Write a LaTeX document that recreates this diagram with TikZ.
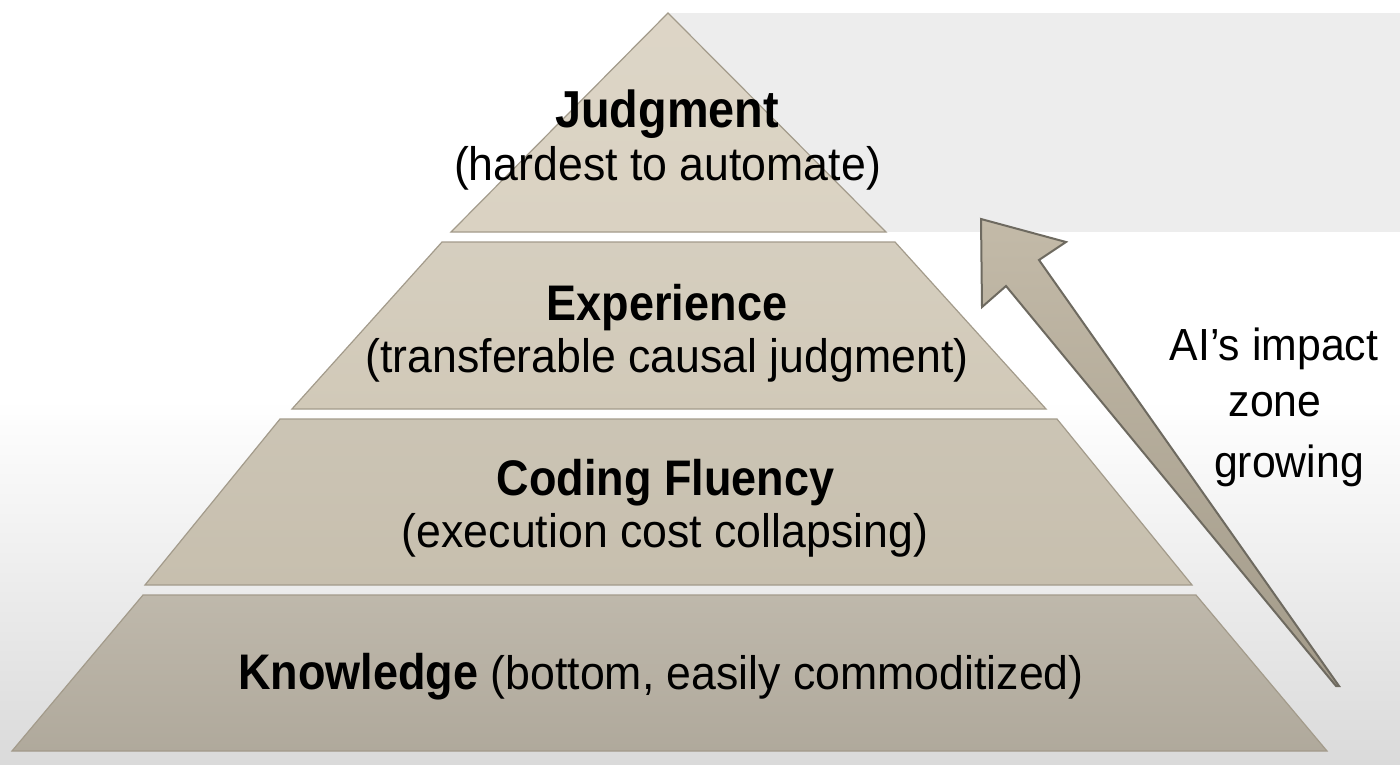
\documentclass[tikz,border=0pt]{standalone}
\usepackage{fontspec}
\setmainfont{Liberation Sans}
\newfontfamily\regf{Liberation Sans}[FakeStretch=0.95]
\newfontfamily\boldf{Liberation Sans}[FakeStretch=0.9]
\usetikzlibrary{shadings}
\definecolor{tierA}{HTML}{DAD2C2}
\definecolor{tierB}{HTML}{D1C9B8}
\definecolor{tierC}{HTML}{C7BFAE}
\definecolor{tierD}{HTML}{B9B2A4}
\definecolor{tierline}{HTML}{A39B8B}
\definecolor{arrowline}{HTML}{6E6A60}
\definecolor{arrowfillA}{HTML}{C3BAA8}
\definecolor{arrowfillB}{HTML}{A39B8A}
\definecolor{band}{HTML}{EDEDED}
\definecolor{bgbottom}{HTML}{DADADA}
\tikzset{
  tier/.style={draw=tierline, line width=1.2pt, line join=miter},
  boldlbl/.style={font=\boldf\bfseries\fontsize{50}{56}\selectfont, text=black, inner sep=0pt, anchor=base},
  reglbl/.style={font=\regf\fontsize{47}{52}\selectfont, text=black, inner sep=0pt, anchor=base},
  sidelbl/.style={font=\regf\fontsize{45}{50}\selectfont, text=black, inner sep=0pt, anchor=base},
  growarrow/.style={draw=arrowline, line width=2pt, line join=miter, top color=arrowfillA, bottom color=arrowfillB}
}
\begin{document}
\begin{tikzpicture}[x=1pt,y=-1pt]
\useasboundingbox (0,0) rectangle (1400,764);
% background
\fill[white] (0,0) rectangle (1400,764);
\shade[top color=white, bottom color=bgbottom] (0,400) rectangle (1400,764);
\fill[band] (668,13) rectangle (1400,232);
% tiers
\path[tier, top color=tierA!92!white, bottom color=tierA] (668,13) -- (886,232) -- (451,232) -- cycle;
\path[tier, top color=tierB!90!white, bottom color=tierB] (442,242) -- (895,242) -- (1046,409) -- (292,409) -- cycle;
\path[tier, top color=tierC!92!white, bottom color=tierC] (280,419) -- (1057,419) -- (1192,585) -- (145,585) -- cycle;
\path[tier, top color=tierD!92!white, bottom color=tierD!95!black] (143,595) -- (1196,595) -- (1327,751) -- (12,751) -- cycle;
% labels
\node[boldlbl, font=\boldf\bfseries\fontsize{52}{58}\selectfont] (judg) at (667,127) {Judgment};
\node[reglbl] (judgsub) at (667.5,180) {(hardest to automate)};
\node[boldlbl] (exp) at (667,320) {Experience};
\node[reglbl] (expsub) at (667,372) {(transferable causal judgment)};
\node[boldlbl] (cod) at (665.5,495) {Coding Fluency};
\node[reglbl] (codsub) at (665,547) {(execution cost collapsing)};
\node[reglbl] (know) at (661,689) {{\boldf\bfseries\fontsize{50}{56}\selectfont Knowledge} (bottom, easily commoditized)};
% arrow
\path[growarrow] (981,219) -- (1066,242) -- (1039,260) -- (1339,686) -- (1336,686) -- (1006,286) -- (982,307) -- cycle;
% side text
\node[sidelbl] (ai1) at (1274,360) {AI’s impact};
\node[sidelbl] (ai2) at (1275,416) {zone};
\node[sidelbl] (ai3) at (1289,477) {growing};
\end{tikzpicture}
\end{document}
